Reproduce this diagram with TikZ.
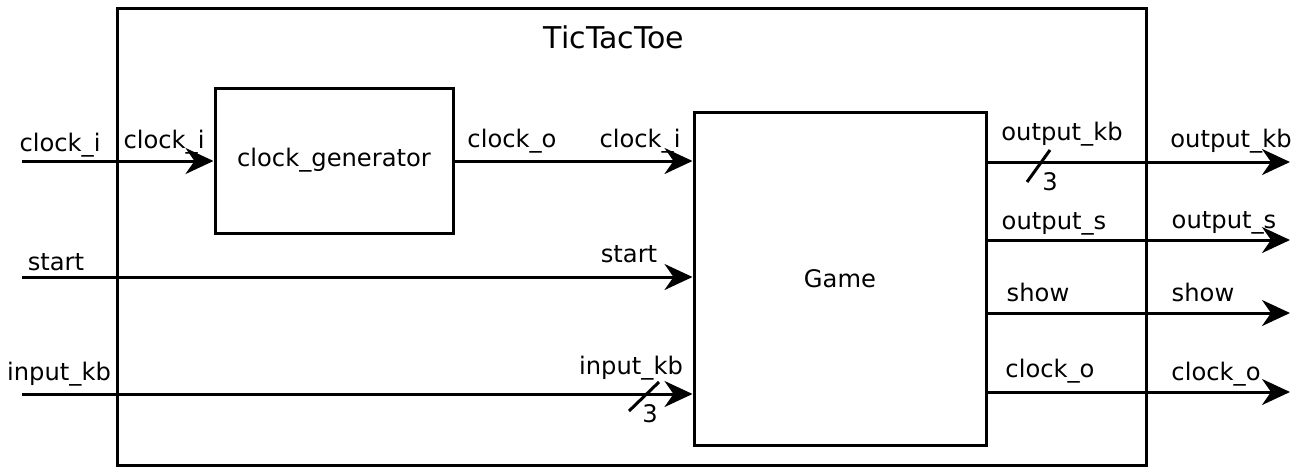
\documentclass[tikz,border=0pt]{standalone}
\usepackage{fontspec}
\setmainfont{DejaVu Sans}
\usepackage{tikz}
\usetikzlibrary{arrows.meta,positioning,calc}

\tikzset{
  block/.style={draw, line width=1.5pt, rectangle, inner sep=0pt},
  sig/.style={line width=1.5pt, -{Stealth[length=14pt,width=13pt,inset=4.5pt]}},
  lbl/.style={anchor=base, inner sep=0pt, font=\fontsize{12.1}{14}\selectfont},
  bus/.style={line width=1.5pt}
}

\begin{document}
\begin{tikzpicture}[x=0.5pt, y=-0.5pt]
		\useasboundingbox (0,0) rectangle (1307,468);
		% blocks
		\node[block, minimum width=514.5pt, minimum height=228.5pt] (top) at (631.5,236.5) {};
		\node[block, minimum width=119pt, minimum height=72.5pt, lbl, anchor=center] (clkgen) at (334,160.5) {clock\_generator};
		\node[block, minimum width=146pt, minimum height=166.5pt, lbl, anchor=center] (game) at (840,278.5) {Game};
		\node[lbl, font=\fontsize{15}{18}\selectfont] (title) at (614,48) {TicTacToe};

		% free ends
		\coordinate (clkin) at (22,161);
		\coordinate (startin) at (22,277);
		\coordinate (kbin) at (22,394);
		\coordinate (kbout) at (1290,162);
		\coordinate (sout) at (1290,240);
		\coordinate (showout) at (1290,313);
		\coordinate (clkout) at (1290,392);

		% inputs
		\draw[sig] (clkin) -- (clkgen.west |- clkin);
		\draw[sig] (clkgen.east |- clkin) -- (game.west |- clkin);
		\draw[sig] (startin) -- (game.west |- startin);
		\draw[sig] (kbin) -- (game.west |- kbin);
		\draw[bus] (629,411) -- (659,382);

		% outputs
		\draw[sig] (game.east |- kbout) -- (kbout);
		\draw[sig] (game.east |- sout) -- (sout);
		\draw[sig] (game.east |- showout) -- (showout);
		\draw[sig] (game.east |- clkout) -- (clkout);
		\draw[bus] (1027,182) -- (1050,150);

		% labels
		\node[lbl] (l1) at (60,151) {clock\_i};
		\node[lbl] (l2) at (164,148) {clock\_i};
		\node[lbl] (l3) at (512,147) {clock\_o};
		\node[lbl] (l4) at (640,147) {clock\_i};
		\node[lbl] (l5) at (56,270) {start};
		\node[lbl] (l6) at (629,262) {start};
		\node[lbl] (l7) at (59,380) {input\_kb};
		\node[lbl] (l8) at (631,374) {input\_kb};
		\node[lbl] (l9) at (650,422) {3};
		\node[lbl] (r1) at (1062,140) {output\_kb};
		\node[lbl] (r2) at (1050,190) {3};
		\node[lbl] (r3) at (1231,147) {output\_kb};
		\node[lbl] (r4) at (1054,229) {output\_s};
		\node[lbl] (r5) at (1224,228) {output\_s};
		\node[lbl] (r6) at (1038,301) {show};
		\node[lbl] (r7) at (1203,301) {show};
		\node[lbl] (r8) at (1050,377) {clock\_o};
		\node[lbl] (r9) at (1216,380) {clock\_o};
	\end{tikzpicture}
\end{document}
